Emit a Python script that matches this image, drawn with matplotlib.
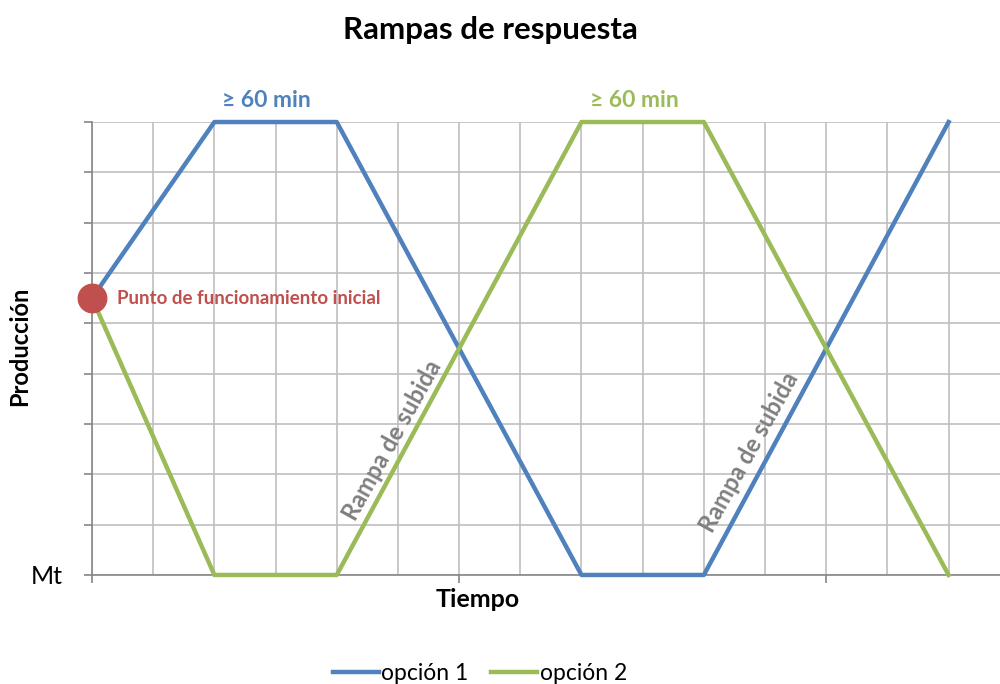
import matplotlib
matplotlib.use("Agg")
import matplotlib.pyplot as plt
from matplotlib.ticker import MultipleLocator

plt.rcParams['font.family'] = ['Lato', 'DejaVu Sans']

# Datos de las rampas
tiempo = [0, 2, 4, 8, 10, 14]
opcion1 = [5.5, 9, 9, 0, 0, 9]
opcion2 = [5.5, 0, 0, 9, 9, 0]
punto_inicial = (0, 5.5)

AZUL = '#4F81BD'
VERDE = '#9BBB59'
ROJO = '#C0504D'
GRIS = '#BFBFBF'

fig = plt.figure(figsize=(10, 6.84), dpi=100)
ax = fig.add_axes([0.092, 0.1594, 0.908, 0.6622])

ax.plot(tiempo, opcion1, color=AZUL, lw=3.2, label='opción 1', clip_on=False, zorder=3)
ax.plot(tiempo, opcion2, color=VERDE, lw=3.2, label='opción 2', clip_on=False, zorder=3)
ax.plot(*punto_inicial, 'o', color=ROJO, ms=20.5, clip_on=False, zorder=4)

ax.set_xlim(0, 14.84)
ax.set_ylim(0, 9)

# Rejilla
ax.xaxis.set_major_locator(MultipleLocator(6))
ax.xaxis.set_minor_locator(MultipleLocator(1))
ax.yaxis.set_major_locator(MultipleLocator(1))
ax.grid(which='both', color=GRIS, lw=1.2)
ax.set_axisbelow(True)
ax.set_xticklabels([])
ax.set_yticks(range(10))
ax.set_yticklabels(['Mt'] + [''] * 9, fontsize=18)
ax.tick_params(axis='x', which='major', length=6, color='#868686', width=1.2)
ax.tick_params(axis='x', which='minor', length=0)
ax.tick_params(axis='y', length=6, color='#868686', width=1.2, pad=15)
for s in ['top', 'right']:
    ax.spines[s].set_visible(False)
for s in ['left', 'bottom']:
    ax.spines[s].set_color('#868686')
    ax.spines[s].set_linewidth(1.2)

# Textos
fig.text(0.49, 0.956, 'Rampas de respuesta', ha='center', va='center',
         fontsize=22.5, fontweight='bold')
ax.set_xlabel('Tiempo', fontsize=18, fontweight='bold')
ax.xaxis.set_label_coords(0.425, -0.028)
ax.set_ylabel('Producción', fontsize=17, fontweight='bold')
ax.yaxis.set_label_coords(-0.067, 0.505)

ax.text(2.85, 9.43, '≥ 60 min', color=AZUL, fontsize=16.5, fontweight='bold',
        ha='center', va='center')
ax.text(8.87, 9.43, '≥ 60 min', color=VERDE, fontsize=16.5, fontweight='bold',
        ha='center', va='center')
ax.text(0.41, 5.5, 'Punto de funcionamiento inicial', color=ROJO, fontsize=13.5,
        fontweight='bold', ha='left', va='center')
ax.text(4.9, 2.68, 'Rampa de subida', color='#7F7F7F', fontsize=17,
        fontweight='bold', rotation=61, ha='center', va='center')
ax.text(10.75, 2.44, 'Rampa de subida', color='#7F7F7F', fontsize=17,
        fontweight='bold', rotation=61, ha='center', va='center')

fig.legend(loc='center', bbox_to_anchor=(0.48, 0.016), ncol=2, frameon=False,
           fontsize=16.5, handlelength=2.0, handletextpad=0.1, columnspacing=1.0)

fig.savefig('out.png', dpi=100)
